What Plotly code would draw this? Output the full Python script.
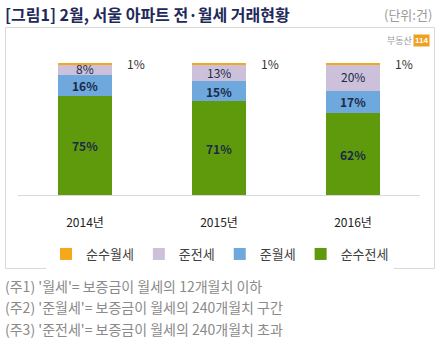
import plotly.graph_objects as go

years = ["2014년", "2015년", "2016년"]
series_names = ["순수전세", "준월세", "준전세", "순수월세"]
jeonse = [75, 71, 62]
junwolse = [16, 15, 17]
junjeonse = [8, 13, 20]
wolse = [1, 1, 1]
series_values = [jeonse, junwolse, junjeonse, wolse]
colors = ["#5f9a0c", "#6fa8dc", "#ccc0da", "#f6a81c"]
footnotes = [
    "(주1) '월세'= 보증금이 월세의 12개월치 이하",
    "(주2) '준월세'= 보증금이 월세의 240개월치 구간",
    "(주3) '준전세'= 보증금이 월세의 240개월치 초과",
]

W, H = 440, 338
ML, MR, MT, MB = 18, 20, 63, 143
PW, PH = W - ML - MR, H - MT - MB
FONT = "Noto Sans CJK KR"

fig = go.Figure()
for name, vals, col in zip(series_names, series_values, colors):
    fig.add_trace(go.Bar(x=years, y=vals, name=name, marker=dict(color=col, line=dict(width=0)),
                         width=0.4, hoverinfo="skip"))

annotations = []
for i, yr in enumerate(years):
    base = 0
    for k, vals in enumerate(series_values):
        v = vals[i]
        if k < 3:
            annotations.append(dict(x=yr, y=base + v / 2 + (0.6 if k == 2 else 0), xref="x", yref="y",
                                    text=f"{v}%", showarrow=False, height=11, valign="middle",
                                    font=dict(family=FONT, size=12, color="#1b2a47",
                                              weight=("normal" if k == 2 else "bold"))))
        else:
            annotations.append(dict(x=i + 0.3, y=base + v, xref="x", yref="y", text=f"{v}%",
                                    showarrow=False, xanchor="left", yanchor="middle",
                                    font=dict(family=FONT, size=12, color="#333333")))
        base += v


def px_y(p):
    return (H - MB - p) / PH


def px_x(p):
    return (p - ML) / PW


# Title & unit
annotations.append(dict(x=px_x(3), y=px_y(14), xref="paper", yref="paper", xanchor="left", yanchor="middle",
                        text="<b>[그림1] 2월, 서울 아파트 전·월세 거래현황</b>", showarrow=False,
                        font=dict(family=FONT, size=16, color="#1f2a5a")))
annotations.append(dict(x=px_x(434), y=px_y(14), xref="paper", yref="paper", xanchor="right", yanchor="middle",
                        text="(단위:건)", showarrow=False, font=dict(family=FONT, size=13, color="#999999")))
# Logo
annotations.append(dict(x=px_x(414), y=px_y(41), xref="paper", yref="paper", xanchor="right", yanchor="middle",
                        text="부동산", showarrow=False, font=dict(family=FONT, size=9, color="#9a9a9a")))
annotations.append(dict(x=px_x(421), y=px_y(41), xref="paper", yref="paper", xanchor="center", yanchor="middle",
                        text="<b>114</b>", showarrow=False, bgcolor="#f0a020", borderpad=1,
                        font=dict(family="Liberation Sans Narrow, Arial", size=8, color="white")))
# Footnotes
for j, t in enumerate(footnotes):
    annotations.append(dict(x=px_x(3), y=px_y(285.5 + j * 21.5), xref="paper", yref="paper", xanchor="left",
                            yanchor="middle", text=t, showarrow=False,
                            font=dict(family=FONT, size=14, color="#8a8a8a")))

shapes = [dict(type="rect", xref="paper", yref="paper", x0=px_x(5.5), x1=px_x(434.5), y0=px_y(268.5), y1=px_y(27.5),
               line=dict(color="#d9d9d9", width=1), fillcolor="rgba(0,0,0,0)", layer="below")]

fig.update_layout(
    width=W, height=H,
    margin=dict(l=ML, r=MR, t=MT, b=MB, autoexpand=False),
    barmode="stack",
    paper_bgcolor="white", plot_bgcolor="white",
    showlegend=True,
    legend=dict(orientation="h", x=0.5, xanchor="center", y=1 - 254 / H, yanchor="middle",
                xref="container", yref="container", traceorder="reversed",
                font=dict(family=FONT, size=13, color="#404040"), itemwidth=30),
    xaxis=dict(showgrid=False, showline=True, linecolor="#d9d9d9", linewidth=1, ticks="",
               tickfont=dict(family=FONT, size=12, color="#222222"), range=[-0.5, 2.5], ticklabelstandoff=17),
    yaxis=dict(visible=False, range=[0, 100]),
    annotations=annotations,
    shapes=shapes,
    font=dict(family=FONT),
)

fig.write_html("out.html")
